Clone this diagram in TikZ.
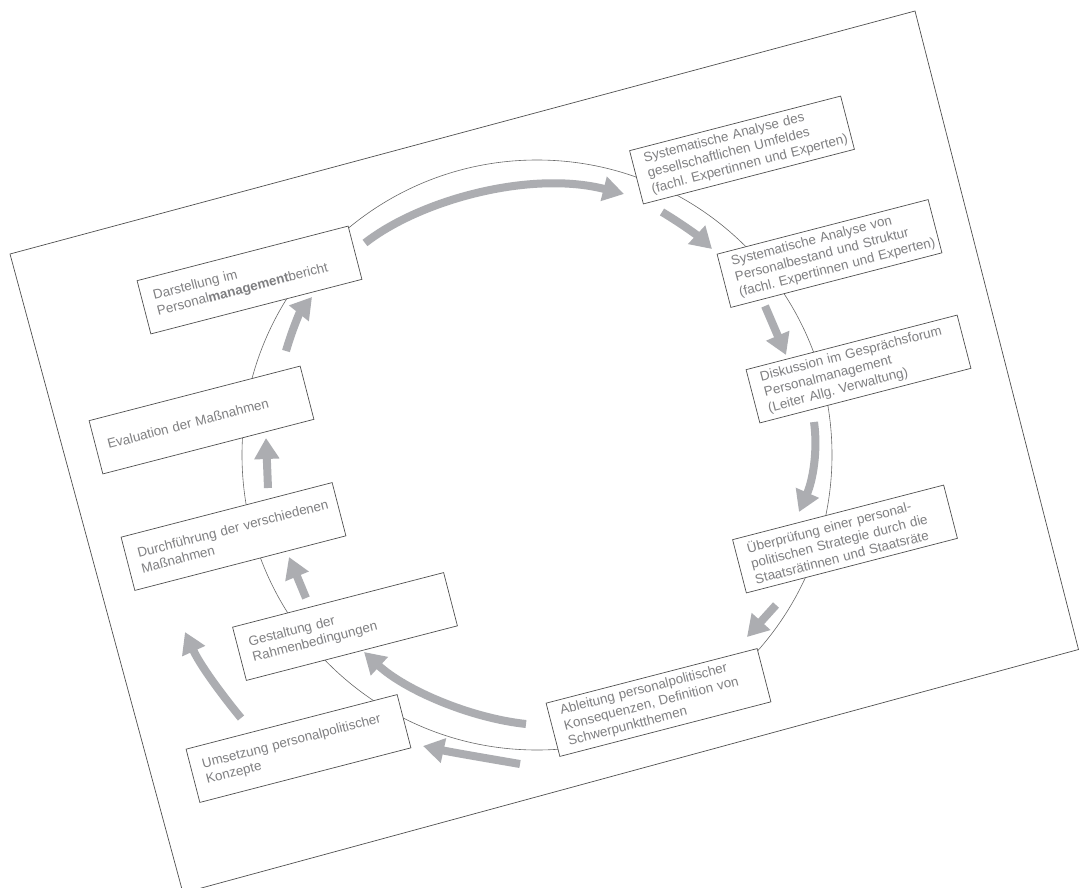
\documentclass[tikz,border=0pt]{standalone}
\usepackage{fontspec}
\newfontfamily\arial{Liberation Sans}
\usetikzlibrary{arrows.meta}
\definecolor{arrgray}{RGB}{172,173,177}
\definecolor{txtgray}{RGB}{128,128,130}
\definecolor{boxline}{RGB}{80,80,80}
\definecolor{circline}{RGB}{105,105,105}
\frenchspacing
\tikzset{
  box/.style={draw=boxline, line width=0.7pt, fill=white, rotate=14.5,
    minimum width=218pt, minimum height=55pt, text width=194pt,
    inner xsep=12pt, inner ysep=3pt, align=left, text=txtgray,
    font=\arial\fontsize{13.4}{16}\selectfont},
  arr/.style={line width=8pt, draw=arrgray, -{Triangle[width=24pt,length=21pt,fill=arrgray]}},
  circ/.style={draw=circline, line width=0.6pt},
  page/.style={draw=boxline, line width=0.7pt}
}
\begin{document}
\begin{tikzpicture}[x=1pt,y=-1pt]
\useasboundingbox (0,0) rectangle (1079,888);
\clip (0,0) rectangle (1079,888);
\fill[white] (0,0) rectangle (1079,888);
% page outline
\coordinate (p1) at (10,254);
\coordinate (p2) at (915,11);
\coordinate (p3) at (1078.5,649.5);
\coordinate (p4) at (183,893);
\draw[page] (p1) -- (p2) -- (p3) -- (p4) -- cycle;
% circle
\coordinate (cc) at (537,455);
\draw[circ] (cc) circle[radius=295];
% boxes
\node[box] (b1) at (742,150) {\mbox{Systematische Analyse des}\\\mbox{gesellschaftlichen Umfeldes}\\\mbox{(fachl. Expertinnen und Experten)}};
\node[box] (b2) at (829.5,253.5) {\mbox{Systematische Analyse von}\\\mbox{Personalbestand und Struktur}\\\mbox{(fachl. Expertinnen und Experten)}};
\node[box] (b3) at (858.5,369) {\mbox{Diskussion im Gesprächsforum}\\\mbox{Personalmanagement}\\\mbox{(Leiter Allg. Verwaltung)}};
\node[box] (b4) at (845,539) {\mbox{Überprüfung einer personal-}\\\mbox{politischen Strategie durch die}\\\mbox{Staatsrätinnen und Staatsräte}};
\node[box] (b5) at (658.5,702.5) {\mbox{Ableitung personalpolitischer}\\\mbox{Konsequenzen, Definition von}\\\mbox{Schwerpunktthemen}};
\node[box] (b6) at (298.5,748.5) {\mbox{Umsetzung personalpolitischer}\\\mbox{Konzepte}};
\node[box] (b7) at (345,626.5) {\mbox{Gestaltung der}\\\mbox{Rahmenbedingungen}};
\node[box] (b8) at (233.5,536.5) {\mbox{Durchführung der verschiedenen}\\\mbox{Maßnahmen}};
\node[box] (b9) at (201.5,420) {\mbox{Evaluation der Maßnahmen}};
\node[box] (b10) at (249.5,280) {\mbox{Darstellung im}\\\mbox{Personal\textbf{management}bericht}};
% arrows
\coordinate (a1s) at (365,243); \coordinate (a1e) at (624,194);
\coordinate (a2s) at (662,212); \coordinate (a2e) at (712,249);
\coordinate (a3s) at (765,306); \coordinate (a3e) at (786,355);
\coordinate (a4s) at (814,422); \coordinate (a4e) at (799,512);
\coordinate (a5s) at (776,605); \coordinate (a5e) at (747,637);
\coordinate (a6s) at (526,724); \coordinate (a6e) at (364,652);
\coordinate (a7s) at (520,764); \coordinate (a7e) at (423,746);
\coordinate (a8s) at (241,718); \coordinate (a8e) at (185,632);
\coordinate (a9s) at (306,598); \coordinate (a9e) at (289,557);
\coordinate (a10s) at (268,488); \coordinate (a10e) at (266,438);
\coordinate (a11s) at (286,351); \coordinate (a11e) at (312,297);
\draw[arr] (a1s) .. controls (420,200) and (530,170) .. (a1e);
\draw[arr] (a2s) .. controls (682,224) and (698,236) .. (a2e);
\draw[arr] (a3s) -- (a3e);
\draw[arr] (a4s) .. controls (818,450) and (813,480) .. (a4e);
\draw[arr] (a5s) -- (a5e);
\draw[arr] (a6s) .. controls (470,718) and (405,690) .. (a6e);
\draw[arr] (a7s) .. controls (485,758) and (450,752) .. (a7e);
\draw[arr] (a8s) .. controls (222,695) and (200,665) .. (a8e);
\draw[arr] (a9s) -- (a9e);
\draw[arr] (a10s) -- (a10e);
\draw[arr] (a11s) .. controls (292,330) and (300,312) .. (a11e);
\end{tikzpicture}
\end{document}
